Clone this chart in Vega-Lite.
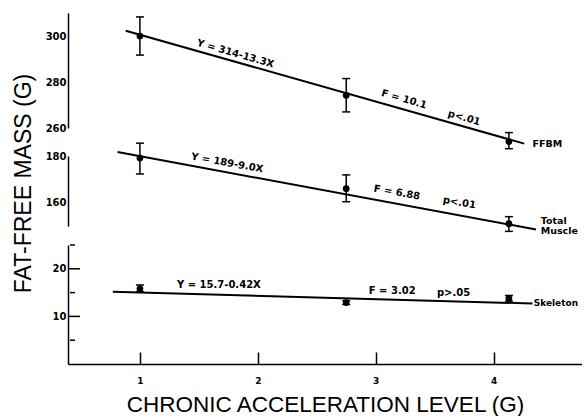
{
  "$schema": "https://vega.github.io/schema/vega-lite/v6.json",
  "background": "white",
  "padding": {"left": 12, "top": 13, "right": 0, "bottom": 0},
  "config": {"view": {"stroke": null}, "axis": {"grid": false, "title": null, "domainColor": "black", "domainWidth": 1.5, "tickColor": "black", "tickWidth": 1.5, "labelFont": "DejaVu Sans", "labelFontWeight": "bold", "labelFontSize": 10, "labelColor": "black"}},
  "datasets": {
    "pts": [
      {"panel": "FFBM", "x": 1, "y": 300, "lo": 291.7, "hi": 308.3},
      {"panel": "FFBM", "x": 2.75, "y": 274.2, "lo": 267, "hi": 281.5},
      {"panel": "FFBM", "x": 4.13, "y": 254.1, "lo": 251, "hi": 258},
      {"panel": "Muscle", "x": 1, "y": 179.1, "lo": 172.3, "hi": 185.5},
      {"panel": "Muscle", "x": 2.75, "y": 166, "lo": 160.4, "hi": 171.9},
      {"panel": "Muscle", "x": 4.13, "y": 151, "lo": 147.7, "hi": 154},
      {"panel": "Skeleton", "x": 1, "y": 15.8, "lo": 15.2, "hi": 16.6},
      {"panel": "Skeleton", "x": 2.75, "y": 12.9, "lo": 12.5, "hi": 13.3},
      {"panel": "Skeleton", "x": 4.13, "y": 13.8, "lo": 13.2, "hi": 14.4}
    ],
    "lines": [
      {"panel": "FFBM", "x": 0.88, "y": 302.3},
      {"panel": "FFBM", "x": 4.26, "y": 253.2},
      {"panel": "Muscle", "x": 0.81, "y": 181.7},
      {"panel": "Muscle", "x": 4.36, "y": 148.5},
      {"panel": "Skeleton", "x": 0.77, "y": 15.2},
      {"panel": "Skeleton", "x": 4.33, "y": 12.7}
    ],
    "axticks": [
      {"panel": "FFBM", "v": 260, "kind": "major"},
      {"panel": "FFBM", "v": 280, "kind": "major"},
      {"panel": "FFBM", "v": 300, "kind": "major"},
      {"panel": "FFBM", "v": 270, "kind": "minor"},
      {"panel": "FFBM", "v": 290, "kind": "minor"},
      {"panel": "FFBM", "v": 310, "kind": "minor"},
      {"panel": "Muscle", "v": 160, "kind": "major"},
      {"panel": "Muscle", "v": 180, "kind": "major"},
      {"panel": "Muscle", "v": 150, "kind": "minor"},
      {"panel": "Muscle", "v": 170, "kind": "minor"},
      {"panel": "Skeleton", "v": 10, "kind": "major"},
      {"panel": "Skeleton", "v": 20, "kind": "major"},
      {"panel": "Skeleton", "v": 5, "kind": "minor"},
      {"panel": "Skeleton", "v": 15, "kind": "minor"},
      {"panel": "Skeleton", "v": 25, "kind": "minor"}
    ],
    "texts": [
      {"panel": "FFBM", "x": 1.81, "y": 292.3, "label": "Y = 314-13.3X", "angle": 16, "align": "center"},
      {"panel": "FFBM", "x": 3.24, "y": 272.5, "label": "F = 10.1", "angle": 16, "align": "center"},
      {"panel": "FFBM", "x": 3.75, "y": 264.4, "label": "p<.01", "angle": 16, "align": "center"},
      {"panel": "FFBM", "x": 4.33, "y": 253.2, "label": "FFBM", "angle": 0, "align": "left"},
      {"panel": "Muscle", "x": 1.74, "y": 177, "label": "Y = 189-9.0X", "angle": 10, "align": "center"},
      {"panel": "Muscle", "x": 3.18, "y": 164.3, "label": "F = 6.88", "angle": 10, "align": "center"},
      {"panel": "Muscle", "x": 3.71, "y": 160, "label": "p<.01", "angle": 10, "align": "center"},
      {"panel": "Muscle", "x": 4.4, "y": 152.3, "label": "Total", "angle": 0, "align": "left"},
      {"panel": "Muscle", "x": 4.4, "y": 147.7, "label": "Muscle", "angle": 0, "align": "left"},
      {"panel": "Skeleton", "x": 1.67, "y": 16.5, "label": "Y = 15.7-0.42X", "angle": 0, "align": "center"},
      {"panel": "Skeleton", "x": 3.14, "y": 15.4, "label": "F = 3.02", "angle": 0, "align": "center"},
      {"panel": "Skeleton", "x": 3.66, "y": 15.0, "label": "p>.05", "angle": 0, "align": "center"},
      {"panel": "Skeleton", "x": 4.34, "y": 12.8, "label": "Skeleton", "angle": 0, "align": "left"}
    ]
  },
  "bounds": "flush",
  "spacing": 28,
  "vconcat": [
    {
      "width": 514,
      "height": 115,
      "resolve": {"axis": {"y": "independent"}},
      "encoding": {
        "x": {"field": "x", "type": "quantitative", "scale": {"domain": [0.39, 4.75], "nice": false, "zero": false}, "axis": null}
      },
      "layer": [
        {
          "data": {"name": "lines"},
          "transform": [{"filter": "datum.panel === 'FFBM'"}],
          "mark": {"type": "line", "color": "black", "strokeWidth": 2, "clip": false},
          "encoding": {
            "y": {"field": "y", "type": "quantitative", "scale": {"domain": [260, 310], "nice": false, "zero": false},
              "axis": {"orient": "left", "values": [260, 280, 300], "ticks": false, "labels": false, "domain": true}}
          }
        },
        {
          "data": {"name": "pts"},
          "transform": [{"filter": "datum.panel === 'FFBM'"}],
          "mark": {"type": "rule", "color": "black", "strokeWidth": 1.5},
          "encoding": {
            "y": {"field": "lo", "type": "quantitative",
              "axis": {"orient": "left", "values": [260, 280, 300], "ticks": false, "tickSize": 0, "domain": false, "labelPadding": 2}},
            "y2": {"field": "hi"}
          }
        },
        {
          "data": {"name": "axticks"},
          "transform": [{"filter": "datum.panel === 'FFBM' && datum.kind === 'major'"}],
          "mark": {"type": "tick", "orient": "horizontal", "size": 12, "thickness": 1.5, "color": "black", "opacity": 1, "xOffset": 6},
          "encoding": {"x": {"datum": 0.39, "type": "quantitative"}, "y": {"field": "v", "type": "quantitative", "axis": null}}
        },
        {
          "data": {"name": "axticks"},
          "transform": [{"filter": "datum.panel === 'FFBM' && datum.kind === 'minor'"}],
          "mark": {"type": "tick", "orient": "horizontal", "size": 5, "thickness": 1.5, "color": "black", "opacity": 1, "xOffset": 4.5},
          "encoding": {"x": {"datum": 0.39, "type": "quantitative"}, "y": {"field": "v", "type": "quantitative", "axis": null}}
        },
        {
          "data": {"name": "pts"},
          "transform": [{"filter": "datum.panel === 'FFBM'"}],
          "mark": {"type": "tick", "orient": "horizontal", "size": 8, "thickness": 1.5, "color": "black", "opacity": 1},
          "encoding": {"y": {"field": "lo", "type": "quantitative", "axis": null}}
        },
        {
          "data": {"name": "pts"},
          "transform": [{"filter": "datum.panel === 'FFBM'"}],
          "mark": {"type": "tick", "orient": "horizontal", "size": 8, "thickness": 1.5, "color": "black", "opacity": 1},
          "encoding": {"y": {"field": "hi", "type": "quantitative", "axis": null}}
        },
        {
          "data": {"name": "pts"},
          "transform": [{"filter": "datum.panel === 'FFBM'"}],
          "mark": {"type": "circle", "size": 45, "color": "black", "opacity": 1},
          "encoding": {"y": {"field": "y", "type": "quantitative", "axis": null}}
        },
        {
          "data": {"name": "texts"},
          "transform": [{"filter": "datum.panel === 'FFBM' && datum.align === 'center'"}],
          "mark": {"type": "text", "font": "DejaVu Sans", "fontWeight": "bold", "fontSize": 10, "color": "black", "baseline": "middle", "align": "center"},
          "encoding": {
            "y": {"field": "y", "type": "quantitative", "axis": null},
            "text": {"field": "label"},
            "angle": {"field": "angle", "type": "quantitative", "scale": null}
          }
        },
        {
          "data": {"name": "texts"},
          "transform": [{"filter": "datum.panel === 'FFBM' && datum.align === 'left'"}],
          "mark": {"type": "text", "font": "DejaVu Sans", "fontWeight": "bold", "fontSize": 9.5, "color": "black", "baseline": "middle", "align": "left"},
          "encoding": {
            "y": {"field": "y", "type": "quantitative", "axis": null},
            "text": {"field": "label"}
          }
        }
      ]
    },
    {
      "bounds": "flush",
      "spacing": 19,
      "vconcat": [
        {
          "width": 514,
          "height": 70,
          "resolve": {"axis": {"y": "independent"}},
          "encoding": {
            "x": {"field": "x", "type": "quantitative", "scale": {"domain": [0.39, 4.75], "nice": false, "zero": false}, "axis": null}
          },
          "layer": [
            {
              "data": {"name": "lines"},
              "transform": [{"filter": "datum.panel === 'Muscle'"}],
              "mark": {"type": "line", "color": "black", "strokeWidth": 2, "clip": false},
              "encoding": {
                "y": {"field": "y", "type": "quantitative", "scale": {"domain": [150, 180], "nice": false, "zero": false},
                  "axis": {"orient": "left", "values": [160, 180], "ticks": false, "labels": false, "domain": true}}
              }
            },
            {
              "data": {"name": "pts"},
              "transform": [{"filter": "datum.panel === 'Muscle'"}],
              "mark": {"type": "rule", "color": "black", "strokeWidth": 1.5},
              "encoding": {
                "y": {"field": "lo", "type": "quantitative",
                  "axis": {"orient": "left", "values": [160, 180], "ticks": false, "tickSize": 0, "domain": false, "labelPadding": 2,
                    "title": "FAT-FREE MASS (G)", "titleFont": "Liberation Sans", "titleFontSize": 23, "titleFontWeight": "normal", "titleColor": "black", "titleY": 27, "titlePadding": 10}},
                "y2": {"field": "hi"}
              }
            },
            {
              "data": {"name": "axticks"},
              "transform": [{"filter": "datum.panel === 'Muscle' && datum.kind === 'major'"}],
              "mark": {"type": "tick", "orient": "horizontal", "size": 12, "thickness": 1.5, "color": "black", "opacity": 1, "xOffset": 6},
              "encoding": {"x": {"datum": 0.39, "type": "quantitative"}, "y": {"field": "v", "type": "quantitative", "axis": null}}
            },
            {
              "data": {"name": "axticks"},
              "transform": [{"filter": "datum.panel === 'Muscle' && datum.kind === 'minor'"}],
              "mark": {"type": "tick", "orient": "horizontal", "size": 5, "thickness": 1.5, "color": "black", "opacity": 1, "xOffset": 4.5},
              "encoding": {"x": {"datum": 0.39, "type": "quantitative"}, "y": {"field": "v", "type": "quantitative", "axis": null}}
            },
            {
              "data": {"name": "pts"},
              "transform": [{"filter": "datum.panel === 'Muscle'"}],
              "mark": {"type": "tick", "orient": "horizontal", "size": 8, "thickness": 1.5, "color": "black", "opacity": 1},
              "encoding": {"y": {"field": "lo", "type": "quantitative", "axis": null}}
            },
            {
              "data": {"name": "pts"},
              "transform": [{"filter": "datum.panel === 'Muscle'"}],
              "mark": {"type": "tick", "orient": "horizontal", "size": 8, "thickness": 1.5, "color": "black", "opacity": 1},
              "encoding": {"y": {"field": "hi", "type": "quantitative", "axis": null}}
            },
            {
              "data": {"name": "pts"},
              "transform": [{"filter": "datum.panel === 'Muscle'"}],
              "mark": {"type": "circle", "size": 45, "color": "black", "opacity": 1},
              "encoding": {"y": {"field": "y", "type": "quantitative", "axis": null}}
            },
            {
              "data": {"name": "texts"},
              "transform": [{"filter": "datum.panel === 'Muscle' && datum.align === 'center'"}],
              "mark": {"type": "text", "font": "DejaVu Sans", "fontWeight": "bold", "fontSize": 10, "color": "black", "baseline": "middle", "align": "center"},
              "encoding": {
                "y": {"field": "y", "type": "quantitative", "axis": null},
                "text": {"field": "label"},
                "angle": {"field": "angle", "type": "quantitative", "scale": null}
              }
            },
            {
              "data": {"name": "texts"},
              "transform": [{"filter": "datum.panel === 'Muscle' && datum.align === 'left'"}],
              "mark": {"type": "text", "font": "DejaVu Sans", "fontWeight": "bold", "fontSize": 9.5, "color": "black", "baseline": "middle", "align": "left"},
              "encoding": {
                "y": {"field": "y", "type": "quantitative", "axis": null},
                "text": {"field": "label"}
              }
            }
          ]
        },
        {
          "width": 514,
          "height": 119,
          "resolve": {"axis": {"x": "independent", "y": "independent"}},
          "layer": [
            {
              "data": {"name": "lines"},
              "transform": [{"filter": "datum.panel === 'Skeleton'"}],
              "mark": {"type": "line", "color": "black", "strokeWidth": 2, "clip": false},
              "encoding": {
                "x": {"field": "x", "type": "quantitative", "scale": {"domain": [0.39, 4.75], "nice": false, "zero": false},
                  "axis": {"orient": "bottom", "values": [1, 2, 3, 4], "ticks": false, "labels": false, "domain": true}},
                "y": {"field": "y", "type": "quantitative", "scale": {"domain": [0, 25], "nice": false, "zero": false},
                  "axis": {"orient": "left", "values": [10, 20], "ticks": false, "labels": false, "domain": true}}
              }
            },
            {
              "data": {"name": "pts"},
              "transform": [{"filter": "datum.panel === 'Skeleton'"}],
              "mark": {"type": "rule", "color": "black", "strokeWidth": 1.5},
              "encoding": {
                "x": {"field": "x", "type": "quantitative",
                  "axis": {"orient": "bottom", "values": [1, 2, 3, 4], "format": "d", "offset": -12, "tickSize": 12, "domain": false,
                    "labelFontSize": 9, "labelPadding": 12,
                    "title": "CHRONIC ACCELERATION LEVEL (G)", "titleFont": "Liberation Sans", "titleFontSize": 22.5, "titleFontWeight": "normal", "titleColor": "black", "titlePadding": 8}},
                "y": {"field": "lo", "type": "quantitative",
                  "axis": {"orient": "left", "values": [10, 20], "ticks": false, "tickSize": 0, "domain": false, "labelPadding": 2}},
                "y2": {"field": "hi"}
              }
            },
            {
              "data": {"name": "axticks"},
              "transform": [{"filter": "datum.panel === 'Skeleton' && datum.kind === 'major'"}],
              "mark": {"type": "tick", "orient": "horizontal", "size": 12, "thickness": 1.5, "color": "black", "opacity": 1, "xOffset": 6},
              "encoding": {"x": {"datum": 0.39, "type": "quantitative", "axis": null}, "y": {"field": "v", "type": "quantitative", "axis": null}}
            },
            {
              "data": {"name": "axticks"},
              "transform": [{"filter": "datum.panel === 'Skeleton' && datum.kind === 'minor'"}],
              "mark": {"type": "tick", "orient": "horizontal", "size": 5, "thickness": 1.5, "color": "black", "opacity": 1, "xOffset": 4.5},
              "encoding": {"x": {"datum": 0.39, "type": "quantitative", "axis": null}, "y": {"field": "v", "type": "quantitative", "axis": null}}
            },
            {
              "data": {"name": "pts"},
              "transform": [{"filter": "datum.panel === 'Skeleton'"}],
              "mark": {"type": "tick", "orient": "horizontal", "size": 8, "thickness": 1.5, "color": "black", "opacity": 1},
              "encoding": {
                "x": {"field": "x", "type": "quantitative", "axis": null},
                "y": {"field": "lo", "type": "quantitative", "axis": null}}
            },
            {
              "data": {"name": "pts"},
              "transform": [{"filter": "datum.panel === 'Skeleton'"}],
              "mark": {"type": "tick", "orient": "horizontal", "size": 8, "thickness": 1.5, "color": "black", "opacity": 1},
              "encoding": {"x": {"field": "x", "type": "quantitative", "axis": null}, "y": {"field": "hi", "type": "quantitative", "axis": null}}
            },
            {
              "data": {"name": "pts"},
              "transform": [{"filter": "datum.panel === 'Skeleton'"}],
              "mark": {"type": "circle", "size": 45, "color": "black", "opacity": 1},
              "encoding": {"x": {"field": "x", "type": "quantitative", "axis": null}, "y": {"field": "y", "type": "quantitative", "axis": null}}
            },
            {
              "data": {"name": "texts"},
              "transform": [{"filter": "datum.panel === 'Skeleton' && datum.align === 'center'"}],
              "mark": {"type": "text", "font": "DejaVu Sans", "fontWeight": "bold", "fontSize": 10, "color": "black", "baseline": "middle", "align": "center"},
              "encoding": {
                "x": {"field": "x", "type": "quantitative", "axis": null},
                "y": {"field": "y", "type": "quantitative", "axis": null},
                "text": {"field": "label"},
                "angle": {"field": "angle", "type": "quantitative", "scale": null}
              }
            },
            {
              "data": {"name": "texts"},
              "transform": [{"filter": "datum.panel === 'Skeleton' && datum.align === 'left'"}],
              "mark": {"type": "text", "font": "DejaVu Sans", "fontWeight": "bold", "fontSize": 9, "color": "black", "baseline": "middle", "align": "left"},
              "encoding": {
                "x": {"field": "x", "type": "quantitative", "axis": null},
                "y": {"field": "y", "type": "quantitative", "axis": null},
                "text": {"field": "label"}
              }
            }
          ]
        }
      ]
    }
  ]
}
